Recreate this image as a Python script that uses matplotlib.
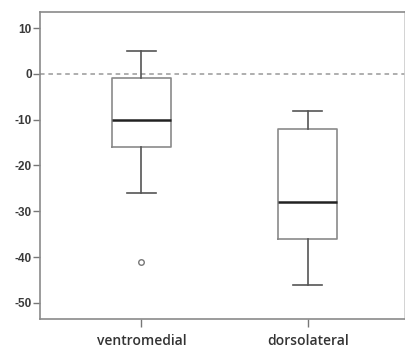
import matplotlib
matplotlib.use('Agg')
import matplotlib.pyplot as plt

# box statistics
groups = ['ventromedial', 'dorsolateral']
whisker_low = [-26, -46]
q1 = [-16, -36]
median = [-10, -28]
q3 = [-1, -12]
whisker_high = [5, -8]
outliers = [[-41], []]
yticks = [10, 0, -10, -20, -30, -40, -50]

stats = []
for i, name in enumerate(groups):
    stats.append({'label': name, 'whislo': whisker_low[i], 'q1': q1[i], 'med': median[i],
                  'q3': q3[i], 'whishi': whisker_high[i], 'fliers': outliers[i]})

fig = plt.figure(figsize=(4.06, 3.54), dpi=100)
ax = fig.add_axes([40 / 406, 35 / 354, 365 / 406, 307 / 354])

ax.axhline(0, color='#999999', linestyle=(0, (3, 2.5)), linewidth=1.1, zorder=0)

ax.bxp(stats, positions=[1, 2], widths=0.354, capwidths=0.175,
       boxprops=dict(color='#8a8a8a', linewidth=1.2),
       medianprops=dict(color='#222222', linewidth=1.8),
       whiskerprops=dict(color='#555555', linewidth=1.2),
       capprops=dict(color='#555555', linewidth=1.2),
       flierprops=dict(marker='o', markersize=4, markerfacecolor='white',
                       markeredgecolor='#777777', markeredgewidth=1))

ax.set_xlim(0.39, 2.585)
ax.set_ylim(-53.5, 13.5)
ax.set_yticks(yticks)
ax.set_yticklabels([str(t) for t in yticks], fontsize=8.5, fontweight='bold',
                   color='#3a3a3a', family='Liberation Sans')
ax.set_xticks([1, 2])
ax.set_xticklabels(groups, fontsize=10, fontweight='semibold', color='#333333',
                   family='Open Sans')
ax.tick_params(axis='y', length=5, width=1, color='#777777', pad=1)
ax.tick_params(axis='x', length=6, width=1, color='#777777', pad=5)
for s in ax.spines.values():
    s.set_color('#8a8a8a')
    s.set_linewidth(1.2)
ax.spines['right'].set_color('#cccccc')

fig.savefig('out.png', dpi=100)
